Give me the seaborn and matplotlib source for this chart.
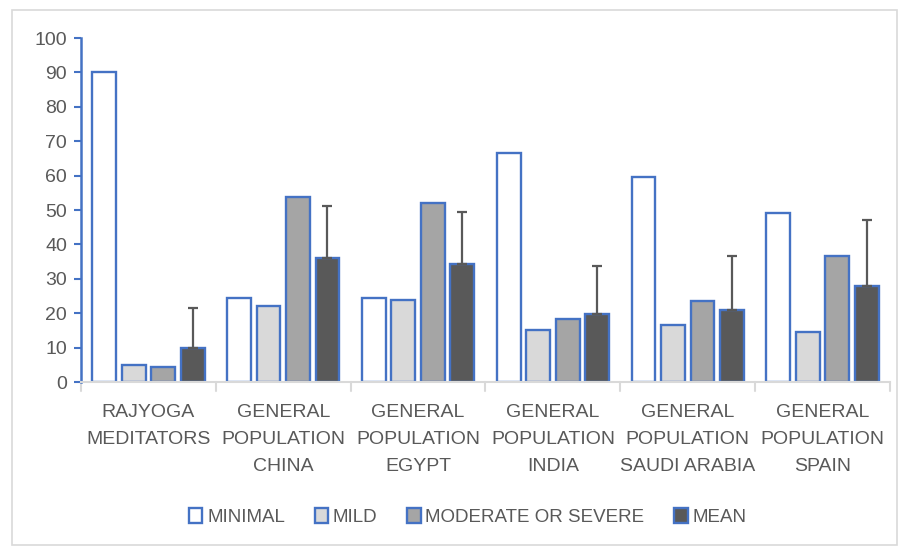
import matplotlib

matplotlib.use("Agg")
import matplotlib.pyplot as plt
import numpy as np
import pandas as pd
import seaborn as sns
from matplotlib.patches import Patch, Rectangle

GRUPLAR = [
    "RAJYOGA\nMEDITATORS",
    "GENERAL\nPOPULATION\nCHINA",
    "GENERAL\nPOPULATION\nEGYPT",
    "GENERAL\nPOPULATION\nINDIA",
    "GENERAL\nPOPULATION\nSAUDI ARABIA",
    "GENERAL\nPOPULATION\nSPAIN",
]
SERILER = ["MINIMAL", "MILD", "MODERATE OR SEVERE", "MEAN"]
MINIMAL = [90, 24.5, 24.3, 66.7, 59.7, 49.2]
MILD = [5, 22, 23.9, 15.2, 16.5, 14.5]
MODERATE = [4.5, 53.7, 52, 18.3, 23.5, 36.6]
MEAN = [10, 36, 34.3, 19.8, 20.8, 27.8]
MEAN_HATA = [11.5, 15.2, 15, 14, 15.8, 19.4]

RENKLER = ["#FFFFFF", "#D9D9D9", "#A5A5A5", "#595959"]
KENAR = "#4472C4"
YAZI = "#595959"

sns.set_style("white")
plt.rcParams["font.family"] = ["Liberation Sans", "DejaVu Sans"]

df = pd.DataFrame({
    "grup": [g for g in GRUPLAR for _ in SERILER],
    "seri": SERILER * len(GRUPLAR),
    "deger": [v for vals in zip(MINIMAL, MILD, MODERATE, MEAN) for v in vals],
})

fig = plt.figure(figsize=(9.03, 5.47), dpi=100)
ax = fig.add_axes([0.0897, 0.3016, 0.8959, 0.6289])
fig.add_artist(Rectangle((0.013, 0.004), 0.98, 0.978, transform=fig.transFigure,
                         fill=False, edgecolor="#D9D9D9", linewidth=1.2))

sns.barplot(data=df, x="grup", y="deger", hue="seri", hue_order=SERILER,
            order=GRUPLAR, palette=RENKLER, edgecolor=KENAR, linewidth=1.7,
            width=0.875, gap=0.19, legend=False, ax=ax)

# hata çubukları sadece MEAN serisinde, yukarı doğru
mean_bars = ax.containers[3]
xs = [b.get_x() + b.get_width() / 2 for b in mean_bars]
ax.errorbar(xs, MEAN, yerr=[np.zeros(len(MEAN)), MEAN_HATA], fmt="none",
            ecolor=YAZI, elinewidth=1.6, capsize=3.6, capthick=1.6, zorder=5)

ax.set_ylim(0, 100)
ax.set_yticks(range(0, 101, 10))
ax.set_xlim(-0.5, len(GRUPLAR) - 0.5)
ax.set_xlabel("")
ax.set_ylabel("")
ax.tick_params(axis="y", colors=KENAR, labelcolor=YAZI, labelsize=14,
               length=5, width=1.5, left=True, direction="out", pad=5)
ax.tick_params(axis="x", length=0, labelcolor=YAZI, labelsize=14, pad=16)
ax.set_xticks(range(len(GRUPLAR)))
ax.set_xticklabels(GRUPLAR, linespacing=1.75)
for x in np.arange(-0.5, len(GRUPLAR), 1):
    ax.plot([x, x], [0, -2.5], color="#D9D9D9", lw=1.5, clip_on=False)

for s in ["top", "right"]:
    ax.spines[s].set_visible(False)
ax.spines["left"].set_color(KENAR)
ax.spines["left"].set_linewidth(1.8)
ax.spines["bottom"].set_color("#D9D9D9")
ax.spines["bottom"].set_linewidth(1.5)

tutamaclar = [Patch(facecolor=r, edgecolor=KENAR, linewidth=1.7, label=s)
              for r, s in zip(RENKLER, SERILER)]
fig.legend(handles=tutamaclar, loc="center", bbox_to_anchor=(0.518, 0.055),
           ncol=4, frameon=False, fontsize=13.5, labelcolor=YAZI,
           handlelength=0.7, handleheight=0.9, handletextpad=0.25, columnspacing=1.6)

fig.savefig("out.png", dpi=100)
